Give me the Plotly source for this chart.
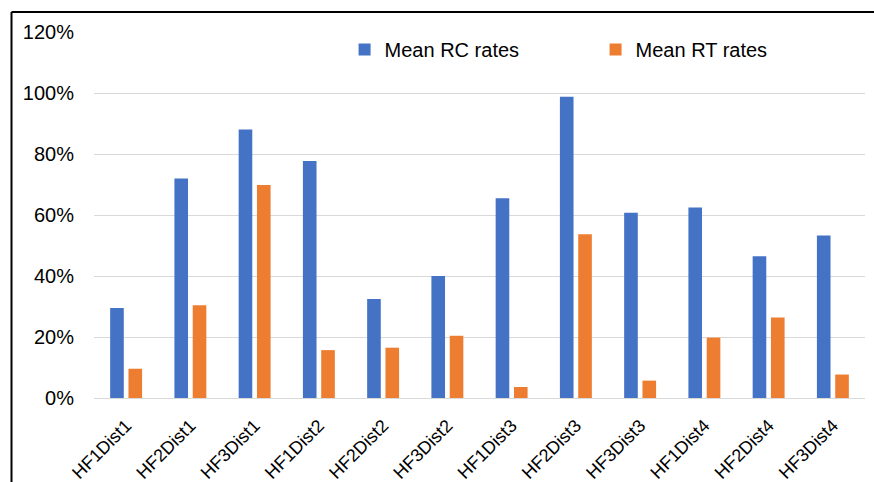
import plotly.graph_objects as go

categories = ["HF1Dist1", "HF2Dist1", "HF3Dist1", "HF1Dist2", "HF2Dist2", "HF3Dist2",
              "HF1Dist3", "HF2Dist3", "HF3Dist3", "HF1Dist4", "HF2Dist4", "HF3Dist4"]
rc_rates = [0.295, 0.720, 0.880, 0.777, 0.325, 0.400, 0.655, 0.988, 0.607, 0.625, 0.465, 0.533]
rt_rates = [0.096, 0.304, 0.698, 0.157, 0.165, 0.204, 0.036, 0.537, 0.057, 0.198, 0.264, 0.077]
series_names = ["Mean RC rates", "Mean RT rates"]
y_ticks = [0, 0.2, 0.4, 0.6, 0.8, 1.0, 1.2]
y_tick_labels = ["0%", "20%", "40%", "60%", "80%", "100%", "120%"]

font_family = "Liberation Sans, Arial, sans-serif"

fig = go.Figure()
fig.add_trace(go.Bar(x=categories, y=rc_rates, name=series_names[0],
                     marker=dict(color="#4472C4", line=dict(width=0))))
fig.add_trace(go.Bar(x=categories, y=rt_rates, name=series_names[1],
                     marker=dict(color="#ED7D31", line=dict(width=0))))

fig.update_layout(
    width=874, height=482,
    margin=dict(l=94, r=9, t=32, b=84, autoexpand=False),
    paper_bgcolor="white", plot_bgcolor="white",
    barmode="group", bargap=0.43, bargroupgap=0.256,
    font=dict(family=font_family, size=20, color="#000000"),
    showlegend=True,
    legend=dict(orientation="h", x=0.325, y=0.952, xanchor="left", yanchor="middle",
                font=dict(size=20, color="#000000"),
                entrywidth=206, entrywidthmode="pixels",
                bgcolor="rgba(0,0,0,0)", itemwidth=30),
)
fig.update_yaxes(range=[0, 1.2], tickvals=y_ticks, ticktext=y_tick_labels,
                 showgrid=True, gridcolor="#D9D9D9", gridwidth=1,
                 zeroline=True, zerolinecolor="#D9D9D9", zerolinewidth=1,
                 showline=False, ticks="outside", ticklen=15, automargin=False,
                 tickcolor="rgba(0,0,0,0)", tickfont=dict(size=20))
fig.update_xaxes(tickangle=-45, showgrid=False, showline=False, automargin=False,
                 ticks="outside", ticklen=9, tickcolor="rgba(0,0,0,0)",
                 tickfont=dict(size=18))

# outer frame (top and left edges visible)
fig.add_shape(type="line", xref="paper", yref="paper",
              x0=-0.107, x1=1.05, y0=1.0548, y1=1.0548,
              line=dict(color="black", width=2))
fig.add_shape(type="line", xref="paper", yref="paper",
              x0=-0.107, x1=-0.107, y0=-0.3, y1=1.0548,
              line=dict(color="black", width=2))

fig.write_html("out.html", config={"displayModeBar": False},
               post_script="document.body.style.margin='0';document.body.style.overflow='hidden';")
